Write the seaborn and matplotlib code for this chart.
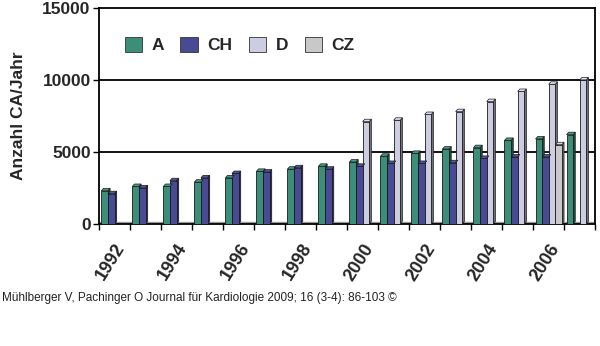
import numpy as np
import pandas as pd
import matplotlib
matplotlib.use("Agg")
import matplotlib.pyplot as plt
import seaborn as sns
from matplotlib.patches import Polygon
import matplotlib.colors as mcolors

years = [str(y) for y in range(1992, 2008)]
series_names = ["A", "CH", "D", "CZ"]
A_vals = [2300, 2600, 2600, 2900, 3200, 3650, 3800, 4000, 4300, 4700, 4900, 5200, 5300, 5800, 5900, 6200]
CH_vals = [2100, 2500, 3000, 3200, 3500, 3600, 3900, 3800, 4000, 4200, 4200, 4250, 4550, 4650, 4650, None]
D_vals = [None] * 8 + [7100, 7200, 7600, 7800, 8500, 9200, 9700, 10000]
CZ_vals = [None] * 14 + [5500, None]
tick_labels = [y if int(y) % 2 == 0 else "" for y in years]
colors = {"A": "#2f9c80", "CH": "#3b40a0", "D": "#c9c9e6", "CZ": "#c8c8c8"}

rows = []
for name, vals in zip(series_names, [A_vals, CH_vals, D_vals, CZ_vals]):
    for y, v in zip(years, vals):
        if v is not None:
            rows.append({"Jahr": y, "Land": name, "Wert": v})
df = pd.DataFrame(rows)

sns.set_theme(style="white")
plt.rcParams["font.family"] = ["Liberation Sans", "DejaVu Sans"]

fig = plt.figure(figsize=(6, 3.46), dpi=100)
ax = fig.add_axes([0.165, 0.353, 0.827, 0.624])

sns.barplot(data=df, x="Jahr", y="Wert", hue="Land", order=years,
            hue_order=series_names, palette=colors, width=0.85,
            edgecolor="#1a1a1a", linewidth=0.6, ax=ax, legend=True, zorder=3)

# pseudo-3D side and top faces derived from drawn bars
dx, dy = 0.07, 170
for p in list(ax.patches):
    h = p.get_height()
    if not np.isfinite(h) or h <= 0:
        continue
    x0 = p.get_x()
    w = p.get_width()
    fc = mcolors.to_rgb(p.get_facecolor())
    dark = tuple(c * 0.55 for c in fc)
    light = tuple(min(1, c * 1.1) for c in fc)
    side = Polygon([[x0 + w, 0], [x0 + w + dx, dy], [x0 + w + dx, h + dy], [x0 + w, h]],
                   closed=True, facecolor=dark, edgecolor="#1a1a1a", linewidth=0.5, zorder=2.9)
    top = Polygon([[x0, h], [x0 + dx, h + dy], [x0 + w + dx, h + dy], [x0 + w, h]],
                  closed=True, facecolor=light, edgecolor="#1a1a1a", linewidth=0.5, zorder=3.1)
    ax.add_patch(side)
    ax.add_patch(top)

ax.set_xlim(-0.5, len(years) - 0.5)
ax.set_ylim(0, 15000)
ax.set_yticks([0, 5000, 10000, 15000])
ax.set_yticklabels(["0", "5000", "10000", "15000"], fontsize=12.5, fontweight="bold")
for yv in [5000, 10000]:
    ax.axhline(yv, color="black", lw=1.3, zorder=1)
ax.axhspan(0, 150, color="#9a9a9a", zorder=1.5)

ax.set_xticks(range(len(years)))
ax.set_xticklabels(tick_labels, rotation=58, fontsize=13, fontweight="bold",
                   ha="right", rotation_mode="anchor")
ax.set_xticks(np.arange(-0.5, len(years)), minor=True)
ax.tick_params(axis="x", which="major", length=0, pad=12)
ax.tick_params(axis="x", which="minor", length=4, width=1, color="black", bottom=True)
ax.tick_params(axis="y", length=4, width=1, color="black", left=True, pad=2)

ax.set_xlabel("")
ax.set_ylabel("Anzahl CA/Jahr", fontsize=12.5, fontweight="bold", labelpad=12)
for s in ax.spines.values():
    s.set_color("black")
    s.set_linewidth(1.3)

handles, labels = ax.get_legend_handles_labels()
leg = ax.legend(handles, labels, loc="upper left", bbox_to_anchor=(0.02, 0.94), ncol=4,
                frameon=False, prop={"weight": "bold", "size": 12.5},
                handlelength=1.0, handleheight=1.0, columnspacing=0.95, handletextpad=0.55)
for h in leg.legend_handles:
    h.set_edgecolor("#333333")

fig.text(0.003, 0.14, "Mühlberger V, Pachinger O Journal für Kardiologie 2009; 16 (3-4): 86-103 ©",
         fontsize=8.5, color="#222222", ha="left", va="center")

fig.savefig("out.png", dpi=100, facecolor="white")
